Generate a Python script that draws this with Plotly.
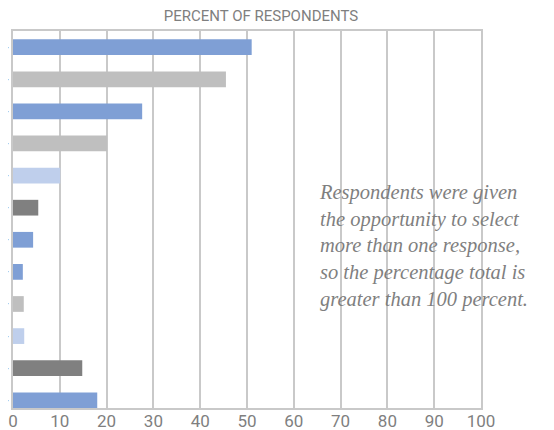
import plotly.graph_objects as go

# Data (top to bottom)
categories = [f"c{i+1}" for i in range(12)]
values = [51, 45.5, 27.6, 20.1, 10.1, 5.4, 4.3, 2.1, 2.3, 2.4, 14.8, 18.0]
bar_colors = ["#7F9FD5", "#BFBFBF", "#7F9FD5", "#BFBFBF", "#BFCFEC", "#808080",
              "#7F9FD5", "#7F9FD5", "#BFBFBF", "#BFCFEC", "#808080", "#7F9FD5"]
tick_labels = ["·"] * 12
x_ticks = [0, 10, 20, 30, 40, 50, 60, 70, 80, 90, 100]
title_text = "PERCENT OF RESPONDENTS"
note_lines = ["Respondents were given", "the opportunity to select",
              "more than one response,", "so the percentage total is",
              "greater than 100 percent."]

COND = "Roboto, Liberation Sans, sans-serif"
GRID = "#C9C9C9"
TXT = "#7F7F7F"

# the page body adds an 8px offset, so the figure is 8px smaller
W, H = 546, 422

fig = go.Figure()
fig.add_trace(go.Bar(
    x=values, y=categories, orientation="h",
    marker=dict(color=bar_colors, line=dict(width=0)),
    width=0.49, showlegend=False, hoverinfo="x",
))

fig.update_layout(
    width=W, height=H,
    margin=dict(l=5, r=73, t=23, b=22),
    paper_bgcolor="white", plot_bgcolor="white",
    title=dict(text=title_text, x=253/W, xref="container", xanchor="center",
               y=1-8/H, yanchor="middle",
               font=dict(family=COND, size=15, color=TXT)),
    xaxis=dict(range=[0, 100], tickvals=x_ticks,
               showgrid=True, gridcolor=GRID, gridwidth=1.5,
               showline=True, linecolor=GRID, linewidth=1.5, mirror=True,
               zeroline=False, ticks="", automargin=False,
               ticklabelstandoff=-3,
               tickfont=dict(family=COND, size=17, color=TXT)),
    yaxis=dict(categoryorder="array", categoryarray=categories,
               range=[11.24, -0.504], tickvals=categories, ticktext=tick_labels,
               tickfont=dict(size=10, color=TXT), ticks="", automargin=False,
               showgrid=False, showline=True, linecolor=GRID, linewidth=1.5,
               mirror=True, zeroline=False),
    bargap=0.5,
)

fig.add_annotation(
    text="<br>".join(note_lines), x=65.0, y=6.18, xref="x", yref="y",
    xanchor="left", yanchor="middle", align="left", showarrow=False,
    font=dict(family="Liberation Serif, Times New Roman, serif", size=20.5,
              color=TXT, style="italic"),
)

fig.write_html("out.html")
